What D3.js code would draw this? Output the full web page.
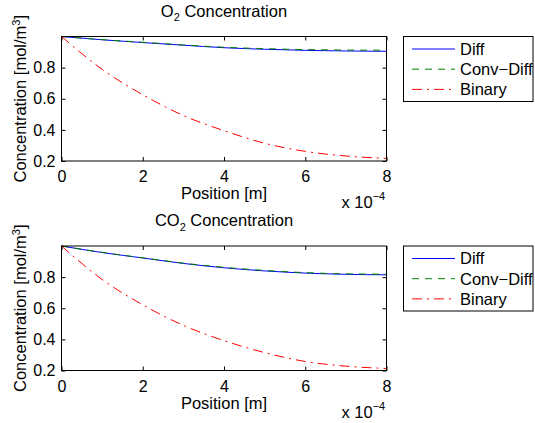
<!DOCTYPE html>
<html>
<head>
<meta charset="utf-8">
<script src="https://cdn.jsdelivr.net/npm/d3@7"></script>
<style>
  body { margin: 0; background: #fff; }
  svg { display: block; font-family: "Liberation Sans", Arial, sans-serif; }
</style>
</head>
<body>
<div id="chart"></div>
<script>
// positions along the channel [m]
var positions = [0, 1e-4, 2e-4, 3e-4, 4e-4, 5e-4, 6e-4, 7e-4, 8e-4];

// O2 concentration
var o2Diff     = [1.0, 0.979, 0.961, 0.944, 0.928, 0.918, 0.911, 0.907, 0.905];
var o2ConvDiff = [1.0, 0.980, 0.963, 0.946, 0.931, 0.922, 0.916, 0.913, 0.912];
var o2Binary   = [1.0, 0.789, 0.626, 0.492, 0.395, 0.314, 0.262, 0.232, 0.217];

// CO2 concentration
var co2Diff     = [1.0, 0.958, 0.923, 0.888, 0.860, 0.840, 0.826, 0.818, 0.815];
var co2ConvDiff = [1.0, 0.959, 0.924, 0.890, 0.863, 0.843, 0.829, 0.821, 0.819];
var co2Binary   = [1.0, 0.785, 0.622, 0.490, 0.392, 0.315, 0.258, 0.228, 0.213];

var seriesNames = ["Diff", "Conv\u2212Diff", "Binary"];
var xTicks = [0, 2e-4, 4e-4, 6e-4, 8e-4];
var yTicks = [0.2, 0.4, 0.6, 0.8];

// styles
var colors = ["#0000ff", "#008000", "#ff0000"];
var dashes = [null, "7,6", "10,5,2,5"];

var W = 535, H = 423;
var box = {left: 61.5, right: 386.5, top: 36.5, bottom: 161};
var panelGap = 209.5;

var svg = d3.select("#chart").append("svg")
    .attr("width", W)
    .attr("height", H);

var x = d3.scaleLinear().domain([0, 8e-4]).range([box.left, box.right]);
var y = d3.scaleLinear().domain([0.2, 1]).range([box.bottom, box.top]);

function panel(offset, gas, data) {
  var g = svg.append("g").attr("transform", "translate(0," + offset + ")");

  // mirrored inward ticks
  g.append("g").attr("transform", "translate(0," + box.bottom + ")")
    .call(d3.axisBottom(x).tickValues(xTicks).tickSizeInner(-4).tickSizeOuter(0)
      .tickPadding(10).tickFormat(function (d) { return d3.format("d")(Math.round(d * 1e4)); }));
  g.append("g").attr("transform", "translate(0," + box.top + ")")
    .call(d3.axisTop(x).tickValues(xTicks).tickSizeInner(-4).tickSizeOuter(0).tickFormat(""));
  g.append("g").attr("transform", "translate(" + box.left + ",0)")
    .call(d3.axisLeft(y).tickValues(yTicks).tickSizeInner(-4).tickSizeOuter(0)
      .tickPadding(6).tickFormat(d3.format(".1f")));
  g.append("g").attr("transform", "translate(" + box.right + ",0)")
    .call(d3.axisRight(y).tickValues(yTicks).tickSizeInner(-4).tickSizeOuter(0).tickFormat(""));

  g.selectAll(".domain").remove();
  g.selectAll(".tick line").attr("stroke", "#000");
  g.selectAll(".tick text")
    .attr("fill", "#000")
    .style("font-size", "16px")
    .style("font-family", "'Liberation Sans', Arial, sans-serif");

  var line = d3.line()
      .x(function (d, i) { return x(positions[i]); })
      .y(function (d) { return y(d); })
      .curve(d3.curveMonotoneX);

  data.forEach(function (vals, k) {
    g.append("path")
      .datum(vals)
      .attr("fill", "none")
      .attr("stroke", colors[k])
      .attr("stroke-width", 1)
      .attr("stroke-dasharray", dashes[k])
      .attr("d", line);
  });

  g.append("rect")
    .attr("x", box.left).attr("y", box.top)
    .attr("width", box.right - box.left).attr("height", box.bottom - box.top)
    .attr("fill", "none").attr("stroke", "#000");

  var cx = (box.left + box.right) / 2;

  // title
  var t = g.append("text").attr("x", cx).attr("y", 16.5)
    .attr("text-anchor", "middle").style("font-size", "16.5px");
  t.append("tspan").text(gas === "O" ? "O" : "CO");
  t.append("tspan").attr("dy", 4.5).style("font-size", "11px").text("2");
  t.append("tspan").attr("dy", -4.5).text(" Concentration");

  // axis labels
  g.append("text").attr("x", cx).attr("y", 199)
    .attr("text-anchor", "middle").style("font-size", "16.5px")
    .text("Position [m]");

  var yl = g.append("text")
    .attr("transform", "translate(26," + ((box.top + box.bottom) / 2) + ") rotate(-90)")
    .attr("text-anchor", "middle").style("font-size", "16.5px");
  yl.append("tspan").text("Concentration [mol/m");
  yl.append("tspan").attr("dy", -6).style("font-size", "11px").text("3");
  yl.append("tspan").attr("dy", 6).text("]");

  // exponent
  var ex = g.append("text").attr("x", 341.5).attr("y", 208).style("font-size", "16.5px");
  ex.append("tspan").text("x 10");
  ex.append("tspan").attr("dy", -8).style("font-size", "11px").text("\u22124");

  // legend
  var lg = g.append("g");
  lg.append("rect")
    .attr("x", 403.5).attr("y", 36.5).attr("width", 129.5).attr("height", 65)
    .attr("fill", "#fff").attr("stroke", "#000");
  seriesNames.forEach(function (name, k) {
    var ly = 49 + k * 20.2;
    lg.append("line")
      .attr("x1", 412).attr("x2", 455).attr("y1", ly).attr("y2", ly)
      .attr("stroke", colors[k]).attr("stroke-width", 1)
      .attr("stroke-dasharray", dashes[k]);
    lg.append("text").attr("x", 460).attr("y", ly).attr("dy", "0.36em")
      .style("font-size", "16.5px").text(name);
  });
}

panel(0, "O", [o2Diff, o2ConvDiff, o2Binary]);
panel(panelGap, "CO", [co2Diff, co2ConvDiff, co2Binary]);
</script>
</body>
</html>
